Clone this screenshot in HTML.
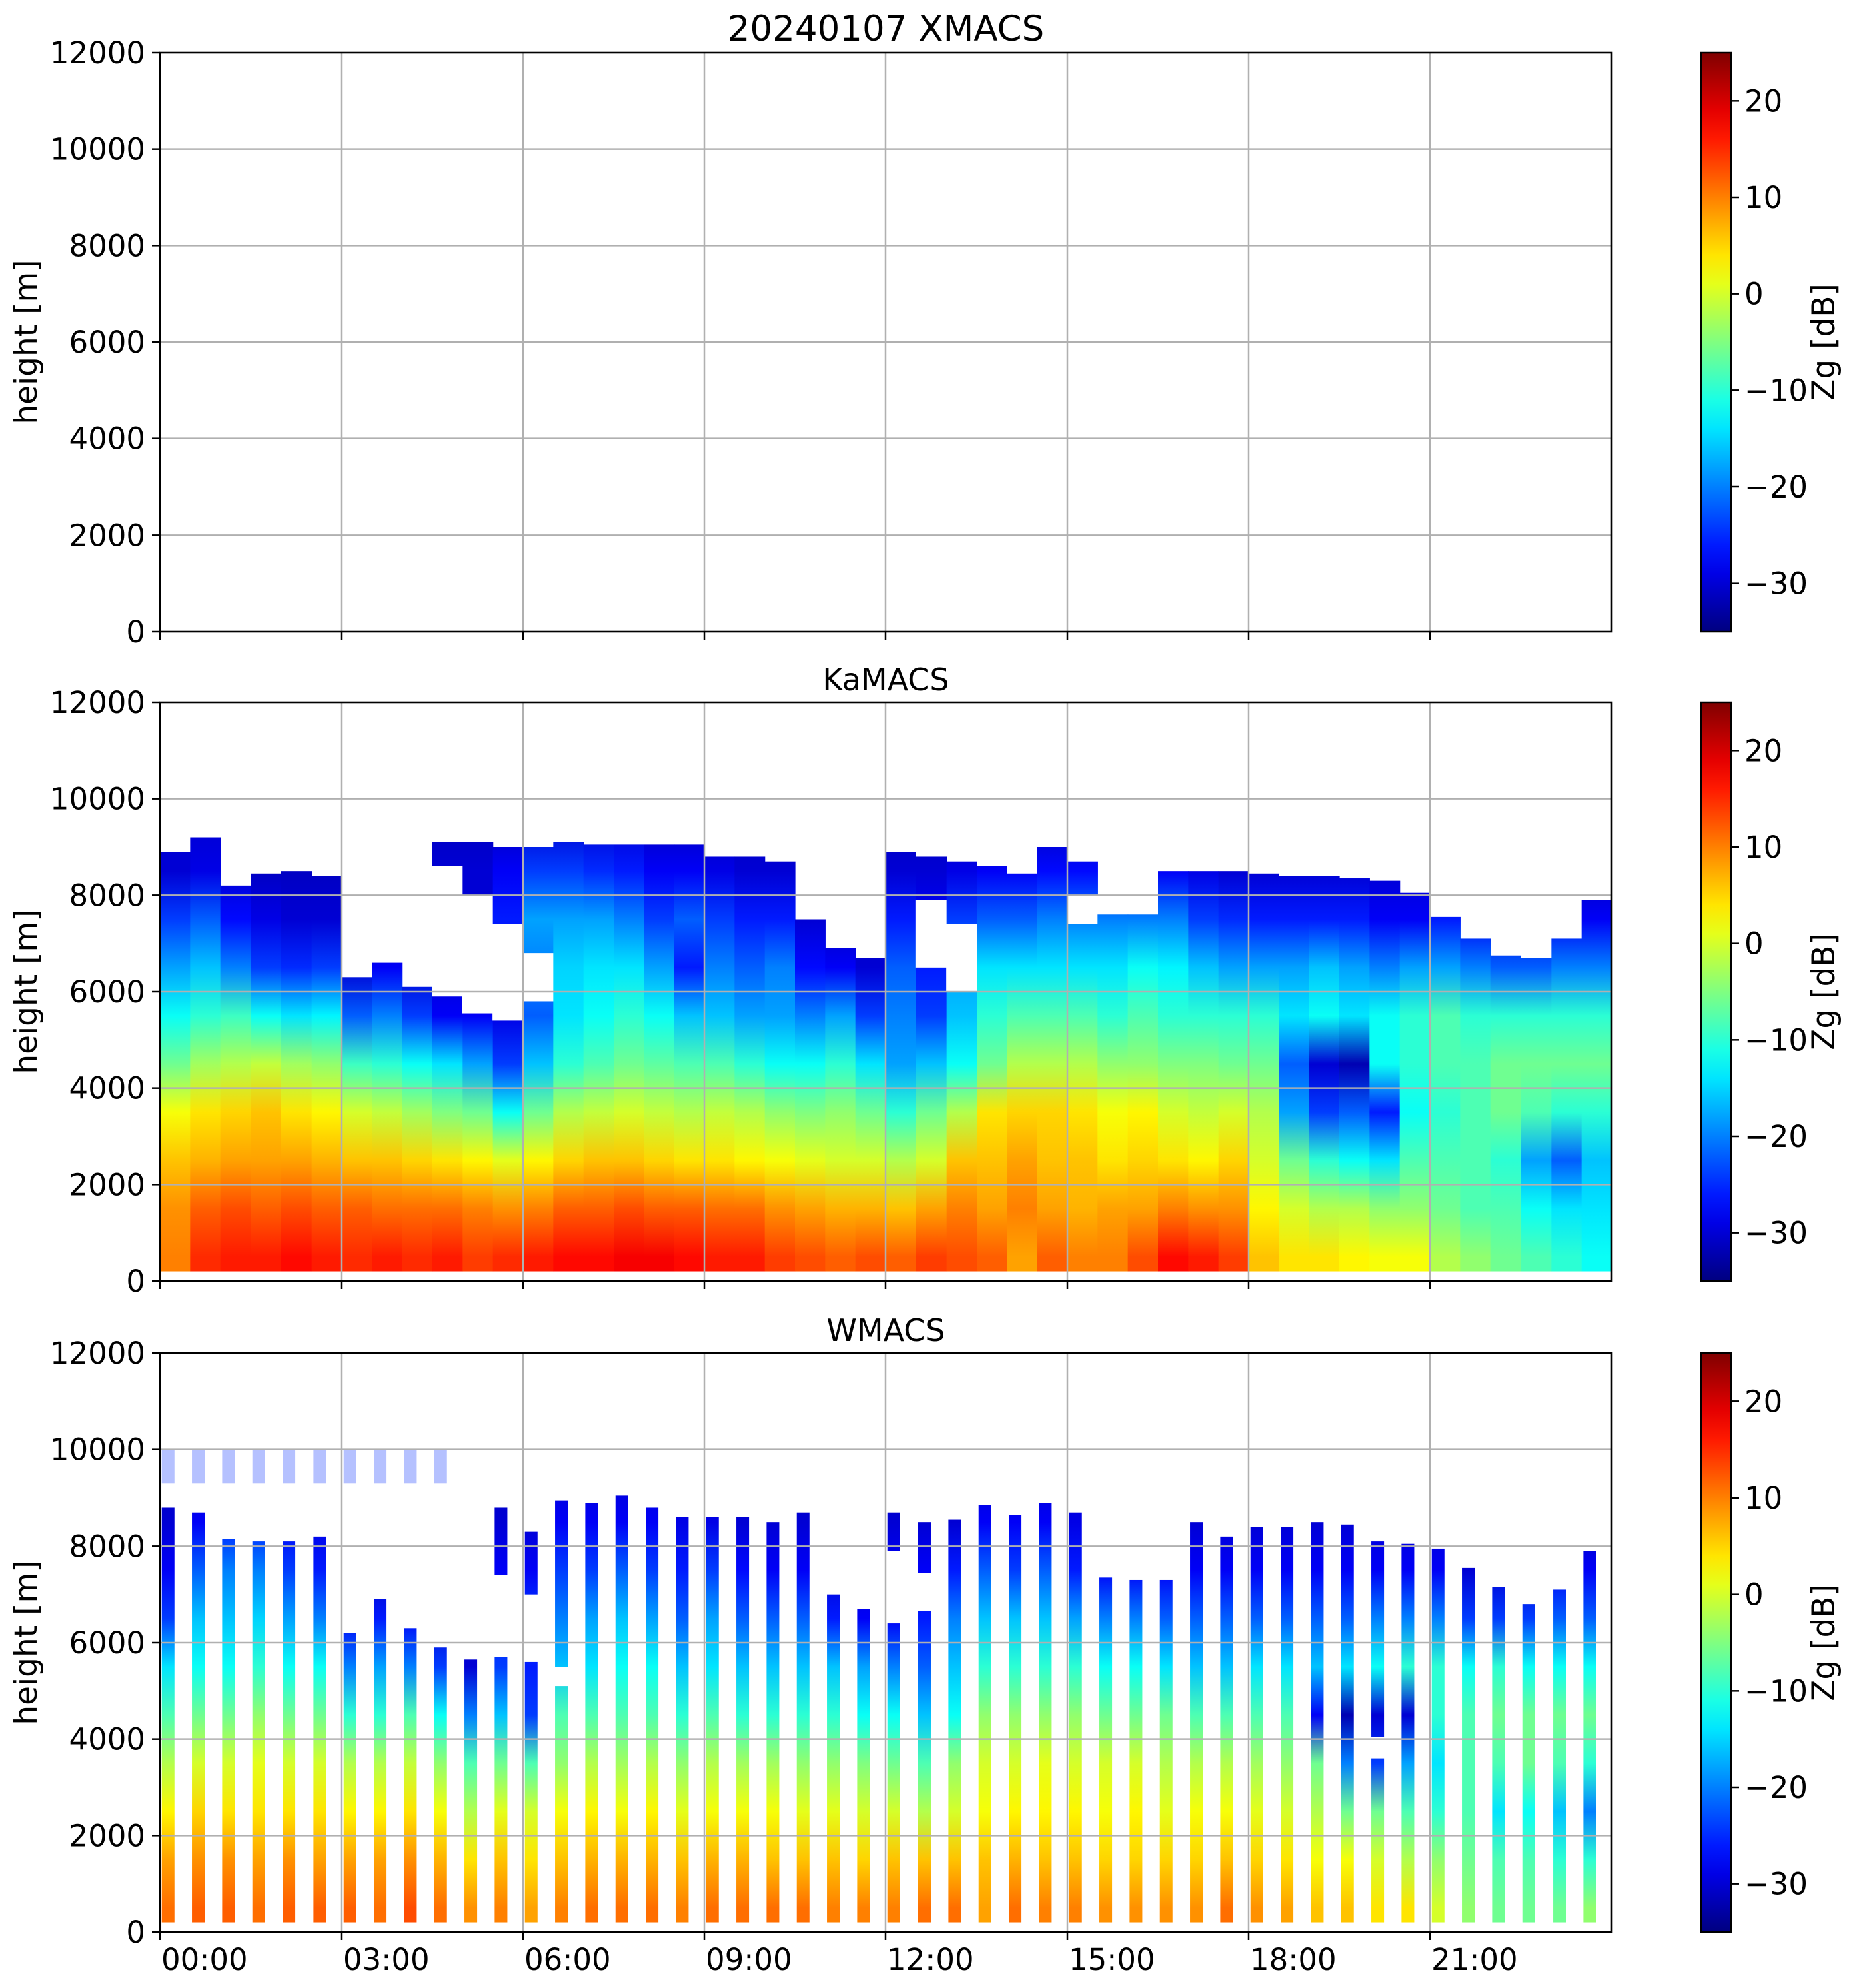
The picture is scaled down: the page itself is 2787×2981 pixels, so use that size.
<!DOCTYPE html>
<html><head><meta charset="utf-8"><style>
html,body{margin:0;padding:0;background:#fff;}
svg{display:block;font-family:"DejaVu Sans","Liberation Sans",sans-serif;}
</style></head><body>
<svg id="fig" width="2787" height="2981" viewBox="0 0 2787 2981" xmlns="http://www.w3.org/2000/svg"></svg>
<script>
// ---- data ----
const levels = [500,1500,2500,3500,4500,5500,6500,7500,8500,9500];
const kaTops = [8900,9200,8200,8450,8500,8400,6300,6600,6100,9100,9100,9000,9000,9100,9050,9050,9050,9050,8800,8800,8700,7500,6900,6700,8900,8800,8700,8600,8450,9000,8700,7600,7600,8500,8500,8500,8450,8400,8400,8350,8300,8050,7550,7100,6750,6700,7100,7900];
const kaGapLo = [0,0,0,0,0,0,0,0,0,5900,5550,5400,5800,0,0,0,0,0,0,0,0,0,0,0,0,6500,6000,0,0,0,7400,0,0,0,0,0,0,0,0,0,0,0,0,0,0,0,0,0];
const kaGapHi = [0,0,0,0,0,0,0,0,0,8600,8000,7400,6800,0,0,0,0,0,0,0,0,0,0,0,0,7900,7400,0,0,0,8000,0,0,0,0,0,0,0,0,0,0,0,0,0,0,0,0,0];
const kaValues = [
[10,9,6,2,-6,-12,-18,-24,-30,-30],[15,12,7,4,-3,-10,-16,-22,-29,-30],[16,13,8,5,-2,-9,-20,-27,-30,-30],
[16,12,8,6,-1,-12,-24,-29,-31,-31],[17,13,8,4,-3,-14,-25,-30,-31,-31],[16,12,7,3,-4,-13,-24,-30,-31,-31],
[15,12,6,0,-9,-22,-30,-31,-31,-31],[16,11,6,-1,-10,-20,-28,-31,-31,-31],[15,11,5,-3,-12,-24,-30,-31,-31,-31],
[16,11,4,-5,-14,-28,-30,-30,-30,-31],[14,10,3,-6,-18,-28,-30,-30,-30,-31],[15,9,1,-12,-24,-29,-28,-26,-28,-31],
[16,10,3,-6,-16,-22,-20,-18,-24,-30],[17,12,5,-2,-10,-14,-15,-18,-24,-30],[17,12,6,-1,-8,-12,-14,-18,-25,-30],
[18,13,6,0,-6,-10,-14,-20,-26,-30],[18,12,5,-1,-7,-12,-18,-24,-28,-31],[17,12,4,-2,-8,-16,-26,-22,-28,-31],
[16,11,4,-1,-8,-16,-20,-24,-29,-31],[16,11,3,-2,-10,-18,-22,-26,-30,-31],[14,9,2,-4,-12,-18,-20,-26,-30,-31],
[13,8,1,-5,-12,-20,-27,-30,-31,-31],[12,7,0,-4,-10,-18,-28,-31,-31,-31],[13,7,0,-6,-14,-24,-30,-31,-31,-31],
[12,6,-2,-10,-18,-20,-22,-26,-30,-31],[14,8,0,-6,-16,-24,-26,-28,-30,-31],[13,10,6,-2,-12,-16,-18,-24,-29,-31],
[12,8,6,4,-6,-10,-14,-22,-28,-31],[8,10,8,5,-2,-8,-14,-22,-28,-31],[12,8,6,5,-2,-8,-14,-20,-27,-31],
[10,7,6,4,-2,-8,-14,-20,-27,-31],[10,8,4,2,-4,-10,-14,-20,-28,-31],[13,8,5,3,-4,-8,-12,-20,-28,-31],
[17,10,4,0,-5,-10,-13,-20,-28,-31],[16,9,3,-1,-5,-10,-16,-24,-29,-31],[14,9,5,0,-6,-10,-18,-25,-30,-31],
[6,3,0,-2,-6,-10,-18,-26,-30,-31],[4,0,-6,-18,-22,-14,-18,-26,-30,-31],[4,-2,-10,-24,-30,-12,-16,-26,-30,-31],
[3,-2,-12,-22,-32,-14,-18,-26,-30,-31],[2,-4,-14,-26,-12,-12,-20,-28,-30,-31],[2,-4,-8,-12,-10,-10,-18,-28,-30,-31],
[-2,-6,-8,-10,-8,-8,-18,-26,-30,-31],[-4,-8,-8,-8,-8,-10,-20,-28,-31,-31],[-6,-8,-10,-6,-6,-10,-22,-29,-31,-31],
[-8,-12,-18,-8,-6,-10,-22,-29,-31,-31],[-10,-14,-22,-10,-6,-10,-20,-28,-31,-31],[-12,-14,-16,-10,-6,-10,-20,-28,-31,-31]
];
const wTops = [8800,8700,8150,8100,8100,8200,6200,6900,6300,5900,5650,8800,8300,8950,8900,9050,8800,8600,8600,8600,8500,8700,7000,6700,8700,8500,8550,8850,8650,8900,8700,7350,7300,7300,8500,8200,8400,8400,8500,8450,8100,8050,7950,7550,7150,6800,7100,7900];
const wGapLo = [0,0,0,0,0,0,0,0,0,0,0,5700,5600,5100,0,0,0,0,0,0,0,0,0,0,6400,6650,0,0,0,0,0,0,0,0,0,0,0,0,0,0,3600,0,0,0,0,0,0,0];
const wGapHi = [0,0,0,0,0,0,0,0,0,0,0,7400,7000,5500,0,0,0,0,0,0,0,0,0,0,7900,7450,0,0,0,0,0,0,0,0,0,0,0,0,0,0,4050,0,0,0,0,0,0,0];
const wValues = [
[11,8,3,-2,-8,-14,-24,-28,-30,-31],[12,9,5,0,-6,-12,-16,-22,-28,-30],[12,9,4,0,-6,-12,-16,-20,-26,-30],
[11,8,4,1,-4,-10,-15,-20,-26,-30],[12,9,4,0,-6,-12,-18,-24,-28,-30],[12,8,4,0,-6,-12,-20,-26,-29,-30],
[12,8,3,-2,-10,-20,-28],[11,8,3,-2,-10,-18,-26],[13,9,4,-1,-8,-20,-28],[11,7,2,-4,-12,-24,-30],
[9,4,-2,-8,-20,-30],[10,6,1,-6,-16,-24,-26,-28,-30],[8,4,0,-8,-24,-26,-24,-28,-30],
[10,6,2,-4,-8,-16,-20,-24,-28,-30],[11,7,3,-2,-8,-14,-18,-24,-28,-30],[11,7,2,-3,-8,-12,-16,-22,-28,-30],
[11,7,3,-2,-8,-12,-18,-24,-28,-30],[10,6,1,-4,-10,-16,-22,-26,-29,-30],[11,7,2,-2,-8,-14,-18,-24,-29,-30],
[11,7,2,-3,-10,-16,-22,-27,-30,-30],[11,6,2,-3,-10,-16,-22,-28,-30],[11,6,1,-4,-10,-16,-22,-28,-30],
[10,6,1,-4,-10,-16,-26,-30],[10,5,0,-5,-12,-18,-28,-30],[10,6,0,-6,-12,-20,-28,-28,-30],
[11,6,-2,-8,-16,-22,-26,-28,-30],[11,6,0,-4,-12,-16,-20,-26,-30],[8,6,2,0,-4,-10,-16,-22,-28,-30],
[11,7,3,0,-4,-10,-16,-24,-28,-30],[10,6,3,1,-4,-10,-16,-22,-28,-30],[10,6,3,0,-4,-10,-18,-26,-29,-30],
[9,5,2,0,-6,-12,-20,-28,-30],[9,5,3,0,-6,-12,-20,-28],[9,5,1,-2,-6,-14,-22,-28],
[9,5,2,-2,-8,-16,-22,-28,-30],[11,6,2,-2,-8,-16,-22,-28,-30],[9,5,1,-3,-8,-14,-22,-28,-30],
[8,4,0,-4,-8,-14,-22,-28,-30],[6,2,-2,-6,-28,-16,-22,-28,-30],[6,2,-6,-20,-32,-14,-22,-28,-30],
[4,0,-6,-24,-30,-12,-20,-28,-30],[4,-2,-8,-18,-30,-10,-20,-28,-30],[0,-4,-10,-14,-10,-10,-20,-28,-30],
[-4,-6,-8,-8,-8,-12,-24,-30],[-6,-8,-14,-8,-6,-10,-24,-30],[-6,-8,-12,-6,-6,-12,-24,-30],
[-6,-10,-16,-8,-6,-12,-22,-28],[-4,-10,-20,-10,-6,-12,-22,-28]
];
const yTicks = [0,2000,4000,6000,8000,10000,12000];
const xTickHours = [0,3,6,9,12,15,18,21];
const xTickLabels = ["00:00","03:00","06:00","09:00","12:00","15:00","18:00","21:00"];
const cbTicks = [-30,-20,-10,0,10,20];
const cbLabels = ["\u221230","\u221220","\u221210","0","10","20"];

// ---- layout ----
const NS="http://www.w3.org/2000/svg";
const svg=document.getElementById('fig');
const L=240, R=2416, H=868, tops=[79,1053,2029];
const CBL=2550, CBR=2595, vmin=-35, vmax=25;
const xS=h=>L+(R-L)*h/24;
function mk(tag,attrs,parent){const e=document.createElementNS(NS,tag);for(const k in attrs)e.setAttribute(k,attrs[k]);(parent||svg).appendChild(e);return e;}
function jet(v){let t=(v-vmin)/(vmax-vmin);t=Math.max(0,Math.min(1,t));
 const c=x=>Math.round(255*Math.max(0,Math.min(1,1.5-Math.abs(4*t-x))));return `rgb(${c(3)},${c(2)},${c(1)})`;}
const defs=mk('defs',{});
let gid=0;

function drawPanel(p,title,tops_,gLo,gHi,vals,colStart,colWidth,isW){
 const T=tops[p],B=T+H; const yS=m=>B-H*m/12000;
 const g=mk('g',{});
 
 
 const t=mk('text',{x:(L+R)/2,y:T-18,'text-anchor':'middle','font-size':p==0?53:46,fill:'#000'},g);
 t.textContent=title;
 
 if(vals){
  for(let i=0;i<tops_.length;i++){
   const id='g'+(gid++);
   const lg=mk('linearGradient',{id:id,gradientUnits:'userSpaceOnUse',x1:0,x2:0,y1:yS(levels[0]),y2:yS(levels[levels.length-1])},defs);
   for(let k=0;k<levels.length;k++){const v=k<vals[i].length?vals[i][k]:-31;
    mk('stop',{offset:(levels[k]-levels[0])/(levels[levels.length-1]-levels[0]),'stop-color':jet(v)},lg);}
   const x0=xS(colStart(i)),x1=xS(colStart(i)+colWidth);
   const r=mk('rect',{x:x0,y:yS(tops_[i]),width:x1-x0+(isW?0:0.6),height:yS(200)-yS(tops_[i]),fill:`url(#${id})`},g);
   
   if(gHi[i]>gLo[i]){mk('rect',{x:x0-0.5,y:yS(gHi[i]),width:x1-x0+1.5,height:yS(gLo[i])-yS(gHi[i]),fill:'#fff'},g);}
   if(isW&&i<10){mk('rect',{x:x0,y:yS(10000),width:x1-x0,height:yS(9300)-yS(10000),fill:'#2a4cff',opacity:0.35},g);}
  }
 }
 for(const h of xTickHours){if(h>0)mk('line',{x1:xS(h),x2:xS(h),y1:T,y2:B,stroke:'#b0b0b0','stroke-width':2.5},g);}
 for(const m of yTicks){if(m>0&&m<12000)mk('line',{x1:L,x2:R,y1:yS(m),y2:yS(m),stroke:'#b0b0b0','stroke-width':2.5},g);}
 mk('rect',{x:L,y:T,width:R-L,height:H,fill:'none',stroke:'#000','stroke-width':2.6},g);
 for(const m of yTicks){mk('line',{x1:L-12,x2:L,y1:yS(m),y2:yS(m),stroke:'#000','stroke-width':2.5},g);
  const tl=mk('text',{x:L-22,y:yS(m)+16,'text-anchor':'end','font-size':45},g);tl.textContent=m;
  }
 for(let k=0;k<xTickHours.length;k++){const x=xS(xTickHours[k]);
  mk('line',{x1:x,x2:x,y1:B,y2:B+12,stroke:'#000','stroke-width':2.5},g);
  if(p==2){const tl=mk('text',{x:x+2,y:B+57,'font-size':45},g);tl.textContent=xTickLabels[k];
   }}
 const yl=mk('text',{transform:`translate(55,${T+H/2}) rotate(-90)`,'text-anchor':'middle','font-size':47},g);
 yl.textContent='height [m]';
 const cg=mk('g',{},svg);
 
 const id='cb'+p;const lg=mk('linearGradient',{id:id,x1:0,x2:0,y1:1,y2:0},defs);
 for(let k=0;k<=20;k++){mk('stop',{offset:k/20,'stop-color':jet(vmin+(vmax-vmin)*k/20)},lg);}
 mk('rect',{x:CBL,y:T,width:CBR-CBL,height:H,fill:`url(#${id})`,stroke:'#000','stroke-width':2.5},cg);
 const cS=v=>B-H*(v-vmin)/(vmax-vmin);
 for(let k=0;k<cbTicks.length;k++){const y=cS(cbTicks[k]);
  mk('line',{x1:CBR,x2:CBR+12,y1:y,y2:y,stroke:'#000','stroke-width':2.5},cg);
  const tl=mk('text',{x:CBR+20,y:y+16,'font-size':45},cg);tl.textContent=cbLabels[k];
  }
 const cl=mk('text',{transform:`translate(2750,${T+H/2}) rotate(-90)`,'text-anchor':'middle','font-size':47},cg);
 cl.textContent='Zg [dB]';
}
drawPanel(0,'20240107 XMACS',null,null,null,null);
drawPanel(1,'KaMACS',kaTops,kaGapLo,kaGapHi,kaValues,i=>i*0.5,0.5,false);
drawPanel(2,'WMACS',wTops,wGapLo,wGapHi,wValues,i=>i*0.5+0.03,0.21,true);
</script>
</body></html>
